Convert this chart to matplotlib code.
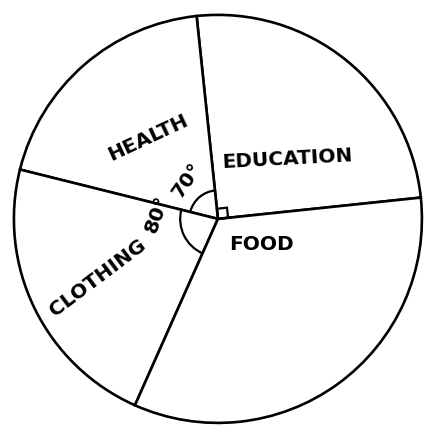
import numpy as np
import matplotlib.pyplot as plt
from matplotlib.patches import Arc, Polygon

categories = ['EDUCATION', 'HEALTH', 'CLOTHING', 'FOOD']
degrees = [90, 70, 80, 120]
start = 6

fig = plt.figure(figsize=(4.44, 4.38), dpi=100)
ax = fig.add_axes([0, 0, 1, 1])
wedges, _ = ax.pie(degrees, startangle=start, counterclock=True,
                   colors=['white'] * 4,
                   wedgeprops=dict(edgecolor='black', linewidth=1.9))
ax.set_xlim(-1.068, 1.108)
ax.set_ylim(-1.074, 1.073)
ax.set_aspect('equal')
ax.axis('off')

# wedge boundaries from the data
bounds = start + np.concatenate([[0], np.cumsum(degrees)])

# right-angle mark for education
a0, a1 = np.radians(bounds[0]), np.radians(bounds[1])
s = 0.05
p1 = (s * np.cos(a0), s * np.sin(a0))
p3 = (s * np.cos(a1), s * np.sin(a1))
p2 = (p1[0] + p3[0], p1[1] + p3[1])
ax.add_patch(Polygon([(0, 0), p1, p2, p3], closed=True, fill=False,
                     edgecolor='black', linewidth=1.6))

# angle arcs for health and clothing
ax.add_patch(Arc((0, 0), 0.28, 0.28, theta1=bounds[1], theta2=bounds[2],
                 color='black', linewidth=1.6))
ax.add_patch(Arc((0, 0), 0.37, 0.37, theta1=bounds[2], theta2=bounds[3],
                 color='black', linewidth=1.6))

fs = 14.5
kw = dict(fontsize=fs, fontweight='bold', ha='center', va='center')
ax.text(-0.341, 0.40, 'HEALTH', rotation=25, **kw)
ax.text(0.341, 0.293, 'EDUCATION', rotation=3, **kw)
ax.text(0.215, -0.127, 'FOOD', rotation=0, **kw)
ax.text(-0.59, -0.288, 'CLOTHING', rotation=37, **kw)
ax.text(-0.151, 0.19, '%d°' % degrees[1], rotation=55, **kw)
ax.text(-0.298, 0.024, '%d°' % degrees[2], rotation=70, **kw)

plt.savefig('out.png', dpi=100)
